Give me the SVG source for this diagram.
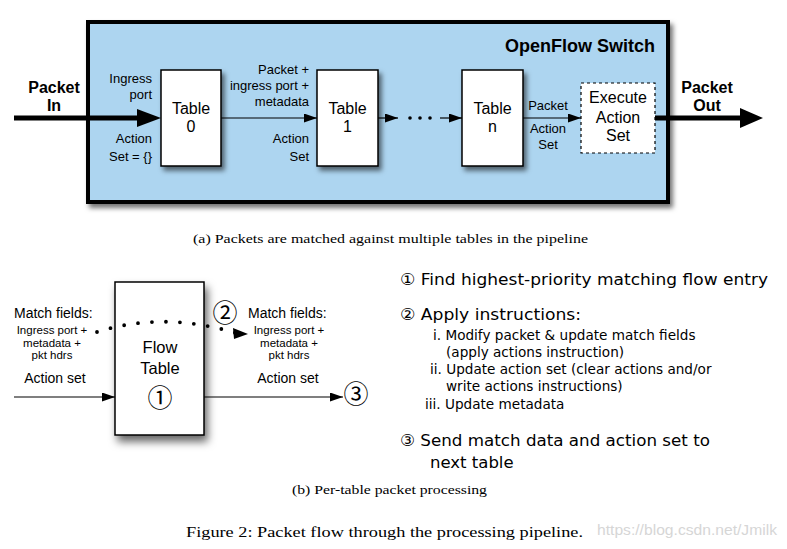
<svg xmlns="http://www.w3.org/2000/svg" width="787" height="549" viewBox="0 0 787 549">
<style>
.s{font-family:"Liberation Sans",Arial,sans-serif;fill:#000}
.b{font-weight:bold}
.c{text-anchor:middle}
.e{text-anchor:end}
.f13{font-size:13px}
.f16{font-size:16px}
.f14{font-size:14px}
.f11{font-size:11.5px}
.st{font-family:"DejaVu Sans","Noto Sans CJK JP",sans-serif;fill:#000}
.m{font-size:16.5px}
.sub{font-size:13.6px}
.cj{font-family:"Noto Sans CJK JP","DejaVu Sans",sans-serif;fill:#000}
.sf{font-family:"Liberation Serif","Times New Roman",serif;fill:#000}
.box{fill:#fff;stroke:#000;stroke-width:1.5}
.ln{fill:none;stroke:#000;stroke-width:1.2}
.thick{fill:none;stroke:#000;stroke-width:5}
</style>
<defs>
<filter id="sh" x="-20%" y="-20%" width="150%" height="150%">
<feDropShadow dx="3" dy="4" stdDeviation="2.5" flood-color="#000" flood-opacity="0.55"/>
</filter>
<filter id="sh2" x="-30%" y="-20%" width="160%" height="150%">
<feDropShadow dx="3" dy="6" stdDeviation="4" flood-color="#000" flood-opacity="0.6"/>
</filter>
<marker id="ah" viewBox="0 0 13 9" refX="13" refY="4.5" markerWidth="13" markerHeight="9" markerUnits="userSpaceOnUse" orient="auto">
<path d="M0,0 L13,4.5 L0,9 z" fill="#000"/>
</marker>
</defs>
<rect width="787" height="549" fill="#fff"/>

<g id="switch">
<rect x="88" y="22" width="580" height="180" fill="#add5f0" stroke="#000" stroke-width="4" filter="url(#sh)"/>
<text class="s b e" x="655" y="52" font-size="18">OpenFlow Switch</text>
</g>

<g id="connectors">
<line class="thick" x1="14" y1="118" x2="140" y2="118"/>
<polygon points="137,109 161,118 137,127" fill="#000"/>
<line class="ln" x1="221" y1="118" x2="317" y2="118" marker-end="url(#ah)"/>
<line class="ln" x1="378" y1="118" x2="398" y2="118" marker-end="url(#ah)"/>
<circle cx="410" cy="118" r="1.8" fill="#000"/>
<circle cx="420" cy="118" r="1.8" fill="#000"/>
<circle cx="430" cy="118" r="1.8" fill="#000"/>
<line class="ln" x1="440" y1="118" x2="462" y2="118" marker-end="url(#ah)"/>
<line class="ln" x1="523" y1="118" x2="581" y2="118" marker-end="url(#ah)"/>
<line class="thick" x1="655" y1="118" x2="743" y2="118"/>
<polygon points="740,108 763,118 740,128" fill="#000"/>
<line class="ln" x1="14" y1="397" x2="115" y2="397" marker-end="url(#ah)"/>
<line class="ln" x1="204" y1="397" x2="343" y2="397" marker-end="url(#ah)"/>
</g>

<g id="edge-labels">
<text class="s b c f16" x="54" y="93">Packet</text>
<text class="s b c f16" x="54" y="111">In</text>
<text class="s e f13" x="152" y="83">Ingress</text>
<text class="s e f13" x="152" y="99">port</text>
<text class="s e f13" x="152" y="143">Action</text>
<text class="s e f13" x="152" y="161">Set = {}</text>
<text class="s e f13" x="309" y="74">Packet +</text>
<text class="s e f13" x="309" y="90">ingress port +</text>
<text class="s e f13" x="309" y="106">metadata</text>
<text class="s e f13" x="309" y="143">Action</text>
<text class="s e f13" x="309" y="161">Set</text>
<text class="s c f13" x="548" y="110">Packet</text>
<text class="s c f13" x="548" y="133">Action</text>
<text class="s c f13" x="548" y="149">Set</text>
<text class="s b c f16" x="707" y="93">Packet</text>
<text class="s b c f16" x="707" y="111">Out</text>
</g>

<g id="table0">
<rect class="box" x="161" y="70" width="60" height="96" filter="url(#sh)"/>
<text class="s c f16" x="191" y="114">Table</text>
<text class="s c f16" x="191" y="132">0</text>
</g>
<g id="table1">
<rect class="box" x="317" y="70" width="61" height="96" filter="url(#sh)"/>
<text class="s c f16" x="347.5" y="114">Table</text>
<text class="s c f16" x="347.5" y="132">1</text>
</g>
<g id="tablen">
<rect class="box" x="462" y="70" width="61" height="96" filter="url(#sh)"/>
<text class="s c f16" x="492.5" y="114">Table</text>
<text class="s c f16" x="492.5" y="132">n</text>
</g>
<g id="execute">
<rect x="581" y="83" width="74" height="70" fill="#fff" stroke="#000" stroke-width="1.2" stroke-dasharray="3 3"/>
<text class="s c f16" x="618" y="103">Execute</text>
<text class="s c f16" x="618" y="123">Action</text>
<text class="s c f16" x="618" y="141">Set</text>
</g>

<text class="sf" x="193" y="243" font-size="12.5" textLength="395" lengthAdjust="spacingAndGlyphs">(a) Packets are matched against multiple tables in the pipeline</text>

<g id="flowtable">
<rect class="box" x="115" y="282" width="89" height="153" filter="url(#sh2)"/>
<text class="s c" x="160" y="353" font-size="16.5">Flow</text>
<text class="s c" x="160" y="374" font-size="16.5">Table</text>
<text class="cj c" x="160" y="407" font-size="25">①</text>
</g>

<g id="match-flow">
<path d="M97,332 Q163,311 236,333" fill="none" stroke="#000" stroke-width="3.8" stroke-linecap="round" stroke-dasharray="0 14"/>
<polygon points="233,328 248,334 234,339" fill="#000"/>
<text class="cj c" x="225" y="321.5" font-size="25">②</text>
</g>

<g id="in-labels">
<text class="s f14" x="14" y="318">Match fields:</text>
<text class="s c f11" x="52" y="334">Ingress port +</text>
<text class="s c f11" x="52" y="347">metadata +</text>
<text class="s c f11" x="52" y="359">pkt hdrs</text>
<text class="s c f14" x="55" y="383">Action set</text>
</g>
<g id="out-labels">
<text class="s f14" x="248" y="318">Match fields:</text>
<text class="s c f11" x="289" y="334">Ingress port +</text>
<text class="s c f11" x="289" y="347">metadata +</text>
<text class="s c f11" x="289" y="359">pkt hdrs</text>
<text class="s c f14" x="288" y="383">Action set</text>
</g>
<g id="step3">
<text class="cj c" x="356" y="403" font-size="25">③</text>
</g>

<g id="steps">
<text class="st m" x="400" y="285" textLength="368" lengthAdjust="spacingAndGlyphs">① Find highest-priority matching flow entry</text>
<text class="st m" x="400" y="320" textLength="181" lengthAdjust="spacingAndGlyphs">② Apply instructions:</text>
<text class="st sub" x="433" y="340">i. Modify packet &amp; update match fields</text>
<text class="st sub" x="446" y="357">(apply actions instruction)</text>
<text class="st sub" x="430" y="374">ii. Update action set (clear actions and/or</text>
<text class="st sub" x="446" y="391">write actions instructions)</text>
<text class="st sub" x="425" y="409">iii. Update metadata</text>
<text class="st m" x="400" y="446" textLength="310" lengthAdjust="spacingAndGlyphs">③ Send match data and action set to</text>
<text class="st m" x="430" y="468">next table</text>
</g>

<text class="sf" x="292" y="494" font-size="12.5" textLength="195" lengthAdjust="spacingAndGlyphs">(b) Per-table packet processing</text>
<text class="sf" x="186" y="537" font-size="15" textLength="397" lengthAdjust="spacingAndGlyphs">Figure 2: Packet flow through the processing pipeline.</text>
<text class="s" x="597" y="535" font-size="15" fill="#d6d6d6" style="fill:#d6d6d6" textLength="180" lengthAdjust="spacingAndGlyphs">https://blog.csdn.net/Jmilk</text>
</svg>
